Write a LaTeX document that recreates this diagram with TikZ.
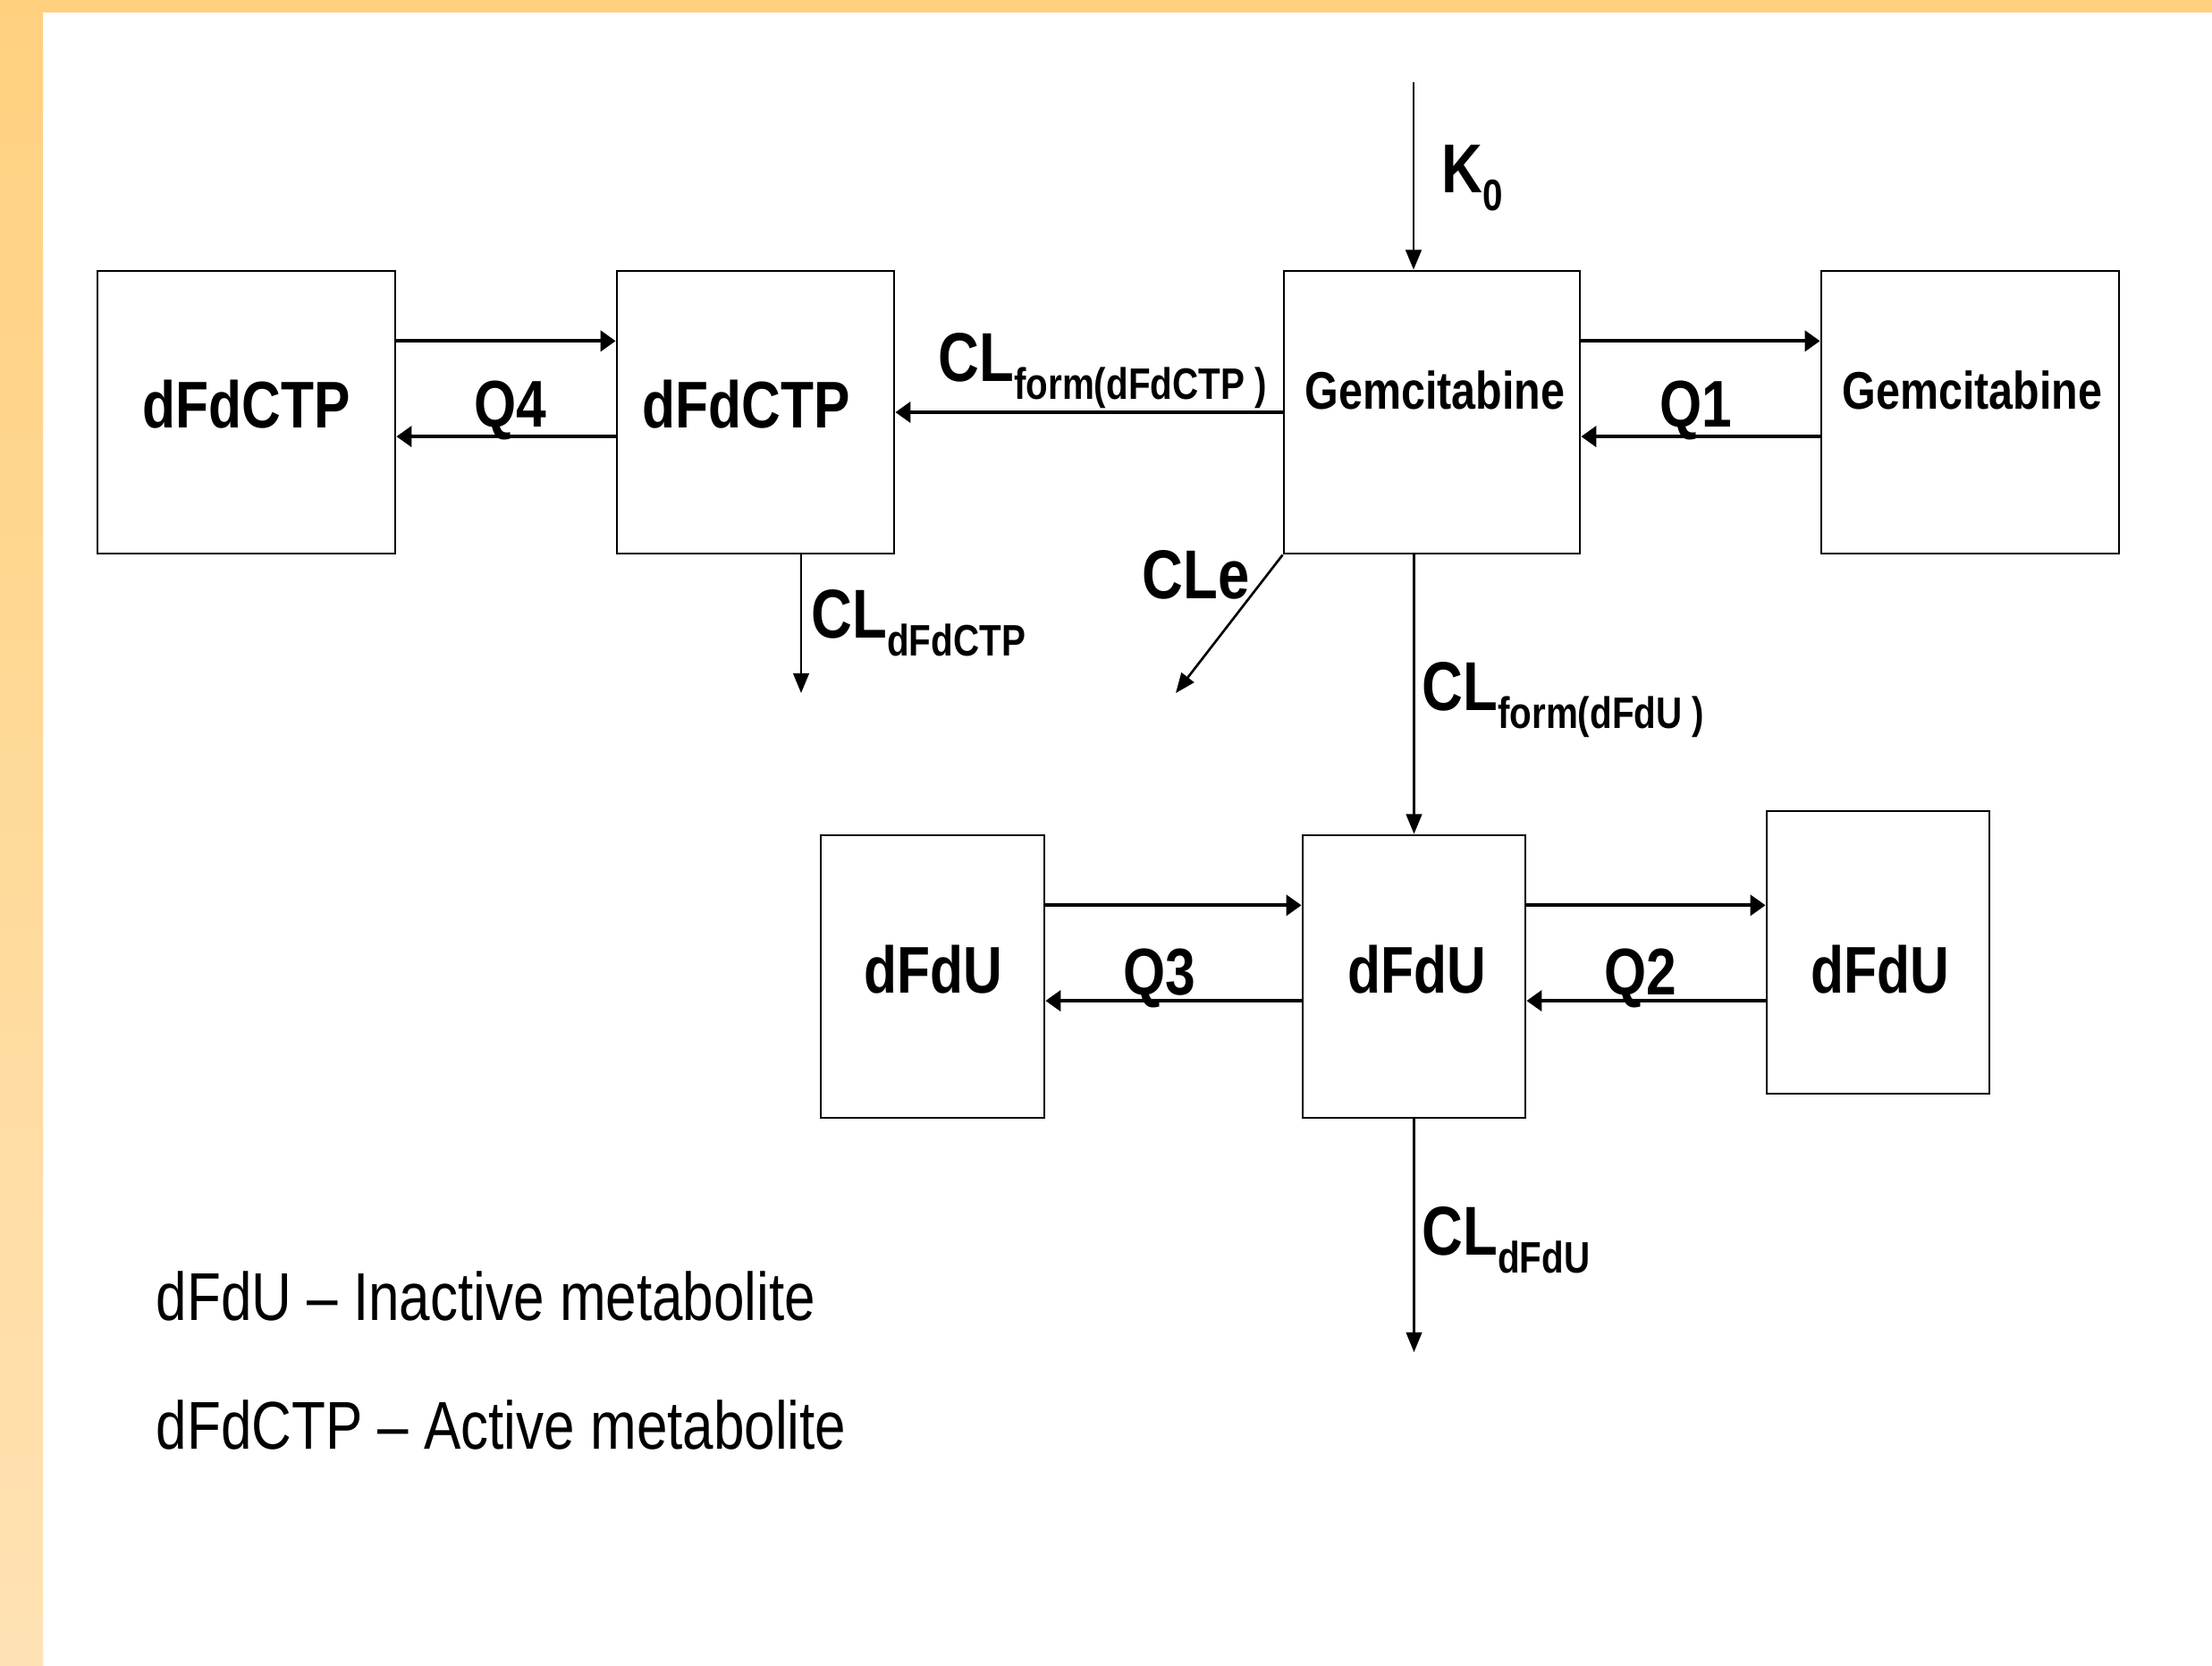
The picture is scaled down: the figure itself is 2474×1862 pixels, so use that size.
\documentclass[tikz,border=0pt]{standalone}
\usepackage{fontspec}
\setmainfont{Liberation Sans}[FakeStretch=0.82]
\usetikzlibrary{arrows.meta, positioning, calc}
\definecolor{naranja}{HTML}{FFD17F}
\definecolor{naranjaclaro}{HTML}{FFE2B4}
\newcommand{\subind}[1]{\raisebox{-5.7pt}{\fontsize{14}{14}\selectfont #1}}
\tikzset{
  caja/.style={rectangle, draw=black, line width=0.75pt, fill=white, inner sep=0pt},
  rotulo/.style={font=\bfseries\fontsize{21}{24}\selectfont, inner sep=0pt, anchor=base},
  rotulogem/.style={font=\bfseries\fontsize{16.8}{20}\selectfont, inner sep=0pt, anchor=base},
  etiq/.style={font=\bfseries\fontsize{22}{26}\selectfont, inner sep=0pt, anchor=base west},
  etiqq/.style={font=\bfseries\fontsize{21}{24}\selectfont, inner sep=0pt, anchor=base},
  leyenda/.style={font=\fontsize{21.5}{26}\selectfont, inner sep=0pt, anchor=base west},
  flujo/.style={line width=1.1pt, -{Triangle[length=4.8pt,width=6.5pt]}},
  salida/.style={line width=0.75pt, -{Triangle[length=6.3pt,width=5pt]}}
}

\begin{document}
\begin{tikzpicture}[x=0.01cm, y=-0.01cm]
  \useasboundingbox (0,0) rectangle (2474,1862);
  % marco de la diapositiva
  \fill [naranja] (0,0) rectangle (2474,14);
  \shade [top color=naranja, bottom color=naranjaclaro] (0,0) rectangle (48,1862);

  % compartimentos
  \node (ctpL) [caja, minimum width=3.33cm, minimum height=3.16cm] at (275.5,461) {};
  \node (ctpC) [caja, minimum width=3.10cm, minimum height=3.16cm] at (845,461) {};
  \node (gemC) [caja, minimum width=3.31cm, minimum height=3.16cm] at (1601.5,461) {};
  \node (gemR) [caja, minimum width=3.33cm, minimum height=3.16cm] at (2203.5,461) {};
  \node (fduL) [caja, minimum width=2.50cm, minimum height=3.16cm] at (1043,1092) {};
  \node (fduC) [caja, minimum width=2.49cm, minimum height=3.16cm] at (1581.5,1092) {};
  \node (fduR) [caja, minimum width=2.49cm, minimum height=3.16cm] at (2100.5,1065) {};

  \node (tctpL) [rotulo] at (276,478) {dFdCTP};
  \node (tctpC) [rotulo] at (835,478) {dFdCTP};
  \node (tgemC) [rotulogem] at (1605,457) {Gemcitabine};
  \node (tgemR) [rotulogem] at (2206,457) {Gemcitabine};
  \node (tfduL) [rotulo] at (1044,1110) {dFdU};
  \node (tfduC) [rotulo] at (1585,1110) {dFdU};
  \node (tfduR) [rotulo] at (2103,1110) {dFdU};

  % intercambios entre compartimentos
  \draw [flujo] ($(ctpL.north east)!0.25!(ctpL.south east)$) -- ($(ctpC.north west)!0.25!(ctpC.south west)$);
  \draw [flujo] ($(ctpC.north west)!0.585!(ctpC.south west)$) -- ($(ctpL.north east)!0.585!(ctpL.south east)$);
  \draw [flujo] ($(gemC.north east)!0.25!(gemC.south east)$) -- ($(gemR.north west)!0.25!(gemR.south west)$);
  \draw [flujo] ($(gemR.north west)!0.585!(gemR.south west)$) -- ($(gemC.north east)!0.585!(gemC.south east)$);
  \draw [flujo] ($(fduL.north east)!0.25!(fduL.south east)$) -- ($(fduC.north west)!0.25!(fduC.south west)$);
  \draw [flujo] ($(fduC.north west)!0.585!(fduC.south west)$) -- ($(fduL.north east)!0.585!(fduL.south east)$);
  \coordinate (sup) at ($(fduC.north east)!0.25!(fduC.south east)$);
  \coordinate (inf) at ($(fduC.north east)!0.585!(fduC.south east)$);
  \draw [flujo] (sup) -- (sup -| fduR.west);
  \draw [flujo] (inf -| fduR.west) -- (inf);
  \draw [flujo] (gemC.west) -- (ctpC.east);

  \node (q4) [etiqq] at (571,477) {Q4};
  \node (q1) [etiqq] at (1897,477) {Q1};
  \node (q3) [etiqq] at (1297,1112) {Q3};
  \node (q2) [etiqq] at (1835,1112) {Q2};

  % entrada y eliminacion
  \coordinate (entrada) at (1581,92);
  \coordinate (finctp) at (896,775);
  \coordinate (fincle) at (1315,775);
  \coordinate (finfdu) at (1581.5,1512);
  \draw [salida] (entrada) -- (entrada |- gemC.north);
  \draw [salida] (finctp |- ctpC.south) -- (finctp);
  \draw [salida] (gemC.south west) -- (fincle);
  \draw [salida] (fduC.north |- gemC.south) -- (fduC.north);
  \draw [salida] (fduC.south) -- (finfdu);

  \node (k0) [etiq] at (1612,215) {K\subind{0}};
  \node (clfctp) [etiq] at (1049,426) {CL\subind{form(dFdCTP )}};
  \node (clctp) [etiq] at (907,713) {CL\subind{dFdCTP}};
  \node (cle) [etiq] at (1277,669) {CLe};
  \node (clffdu) [etiq] at (1590,794) {CL\subind{form(dFdU )}};
  \node (clfdu) [etiq] at (1590,1403) {CL\subind{dFdU}};

  % leyenda
  \node (ley1) [leyenda] at (174,1476) {dFdU – Inactive metabolite};
  \node (ley2) [leyenda] at (174,1620) {dFdCTP – Active metabolite};
\end{tikzpicture}
\end{document}
